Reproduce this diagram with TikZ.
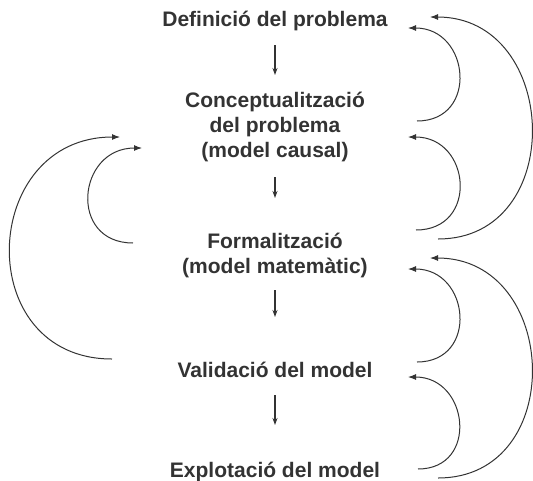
\documentclass[tikz,border=0pt]{standalone}
\usepackage{fontspec}
\setmainfont{Liberation Sans}
\usepackage{tikz}
\usetikzlibrary{arrows.meta,calc}
\definecolor{inkgray}{HTML}{333333}

\begin{document}
\begin{tikzpicture}[x=1pt,y=-1pt,
  stage/.style={inner sep=0pt,anchor=base,align=center,text=inkgray,
    font=\fontsize{21}{25}\selectfont\bfseries},
  flow/.style={-{Stealth[length=7pt,width=5pt]},line width=1.1pt,draw=inkgray},
  fback/.style={-{Latex[length=8pt,width=6pt]},line width=1pt,draw=inkgray}]
  \useasboundingbox (0,0) rectangle (533,480);
  % stages (base = last line)
  \node[stage] (def) at (275,26) {Definició del problema};
  \node[stage] (conc) at (275,157) {Conceptualització\\del problema\\(model causal)};
  \node[stage] (form) at (275,273) {Formalització\\(model matemàtic)};
  \node[stage] (valid) at (275,377) {Validació del model};
  \node[stage] (explot) at (275,477) {Explotació del model};
  % flow arrows
  \draw[flow] ($(def.base)+(0,19)$) -- ($(conc.base)+(0,-82)$);
  \draw[flow] ($(conc.base)+(0,20)$) -- ($(form.base)+(0,-75)$);
  \draw[flow] ($(form.base)+(0,17)$) -- ($(valid.base)+(0,-60)$);
  \draw[flow] ($(valid.base)+(0,18)$) -- ($(explot.base)+(0,-52)$);
  % feedback loops, right side
  \draw[fback] ($(conc.base)+(142,-36)$) .. controls +(62,0) and +(62,0) .. ($(def.base)+(133,2)$);
  \draw[fback] ($(form.base)+(163,-34)$) .. controls +(130,0) and +(130,0) .. ($(def.base)+(155,-9)$);
  \draw[fback] ($(form.base)+(141,-43)$) .. controls +(63,0) and +(63,0) .. ($(conc.base)+(133,-20)$);
  \draw[fback] ($(valid.base)+(142,-15)$) .. controls +(62,0) and +(62,0) .. ($(form.base)+(133,-4)$);
  \draw[fback] ($(explot.base)+(163,1)$) .. controls +(130,0) and +(130,0) .. ($(form.base)+(155,-15)$);
  \draw[fback] ($(explot.base)+(143,-8)$) .. controls +(61,0) and +(61,0) .. ($(valid.base)+(133,0)$);
  % feedback loops, left side
  \draw[fback] ($(valid.base)+(-163,-18)$) .. controls +(-141,0) and +(-141,0) .. ($(conc.base)+(-155,-20)$);
  \draw[fback] ($(form.base)+(-142,-30)$) .. controls +(-65,0) and +(-65,0) .. ($(conc.base)+(-133,-9)$);
\end{tikzpicture}
\end{document}
